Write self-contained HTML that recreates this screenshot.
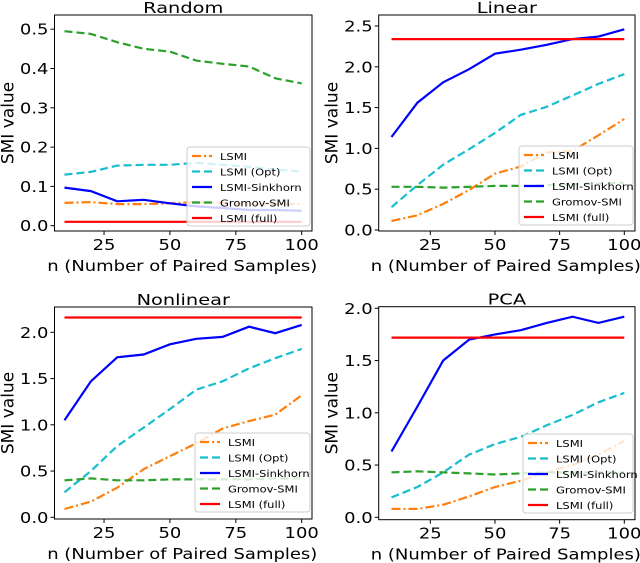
<!DOCTYPE html>
<html><head><meta charset="utf-8">
<style>
html,body{margin:0;padding:0;background:#fff;}
svg{display:block;font-family:"DejaVu Sans","Liberation Sans",sans-serif;}
</style></head>
<body>
<svg id="chart" width="640" height="563" viewBox="0 0 640 563" xmlns="http://www.w3.org/2000/svg"></svg>
<script>
const nValues = [10,20,30,40,50,60,70,80,90,100];
const seriesNames = ["LSMI","LSMI (Opt)","LSMI-Sinkhorn","Gromov-SMI","LSMI (full)"];

const randomLSMI = [0.058,0.060,0.055,0.055,0.057,0.060,0.058,0.055,0.055,0.055];
const randomOpt = [0.130,0.137,0.153,0.155,0.155,0.160,0.155,0.150,0.143,0.138];
const randomSinkhorn = [0.097,0.088,0.062,0.066,0.057,0.049,0.045,0.040,0.040,0.038];
const randomGromov = [0.495,0.488,0.467,0.450,0.443,0.420,0.412,0.405,0.375,0.362];
const randomFull = [0.010,0.010,0.010,0.010,0.010,0.010,0.010,0.010,0.010,0.010];
const randomTicks = [0.0,0.1,0.2,0.3,0.4,0.5];

const linearLSMI = [0.11,0.18,0.32,0.49,0.69,0.78,0.95,0.97,1.16,1.36];
const linearOpt = [0.28,0.55,0.80,0.99,1.19,1.41,1.51,1.65,1.79,1.91];
const linearSinkhorn = [1.14,1.56,1.81,1.97,2.16,2.21,2.27,2.34,2.37,2.46];
const linearGromov = [0.53,0.53,0.52,0.53,0.54,0.54,0.55,0.56,0.57,0.58];
const linearFull = [2.34,2.34,2.34,2.34,2.34,2.34,2.34,2.34,2.34,2.34];
const linearTicks = [0.0,0.5,1.0,1.5,2.0,2.5];

const nonlinLSMI = [0.09,0.17,0.32,0.52,0.66,0.80,0.96,1.04,1.11,1.32];
const nonlinOpt = [0.27,0.50,0.77,0.97,1.17,1.38,1.47,1.61,1.72,1.82];
const nonlinSinkhorn = [1.05,1.47,1.73,1.76,1.87,1.93,1.95,2.06,1.99,2.08];
const nonlinGromov = [0.40,0.42,0.40,0.40,0.41,0.41,0.41,0.41,0.42,0.42];
const nonlinFull = [2.16,2.16,2.16,2.16,2.16,2.16,2.16,2.16,2.16,2.16];
const nonlinTicks = [0.0,0.5,1.0,1.5,2.0];

const pcaLSMI = [0.08,0.08,0.12,0.20,0.29,0.35,0.43,0.50,0.60,0.73];
const pcaOpt = [0.19,0.29,0.43,0.60,0.70,0.77,0.88,0.98,1.10,1.19];
const pcaSinkhorn = [0.63,1.06,1.50,1.70,1.75,1.79,1.86,1.92,1.86,1.92];
const pcaGromov = [0.43,0.44,0.43,0.42,0.41,0.42,0.43,0.43,0.43,0.43];
const pcaFull = [1.72,1.72,1.72,1.72,1.72,1.72,1.72,1.72,1.72,1.72];
const pcaTicks = [0.0,0.5,1.0,1.5,2.0];

const xTicks = [25,50,75,100];

const NS = "http://www.w3.org/2000/svg";
const svg = document.getElementById("chart");
function mk(tag, attrs, parent){
  const e = document.createElementNS(NS, tag);
  for (const k in attrs) e.setAttribute(k, attrs[k]);
  (parent||svg).appendChild(e);
  return e;
}
function stext(parent, x, y, size, sx, anchor, str){
  const e = mk("text", {x:0, y:0, "font-size":size, "text-anchor":anchor,
    transform:"translate(" + x + " " + y + ") scale(" + sx + " 1)"}, parent);
  e.textContent = str;
  return e;
}
const styles = [
  {stroke:"#ff7f0e", dash:"9,3,2,3"},
  {stroke:"#17becf", dash:"8,4"},
  {stroke:"#0000ff", dash:""},
  {stroke:"#2ca02c", dash:"8,4"},
  {stroke:"#ff0000", dash:""}
];

const panels = [
  {key:"random", title:"Random", L:54.5, R:312, T:15, B:231, y0:225.7, yUnit:0.1, yPx:39.3, xA:64.5, xB:301.7, ticks:randomTicks, dec:1,
   series:[randomLSMI,randomOpt,randomSinkhorn,randomGromov,randomFull], leg:{x:187,y:147}},
  {key:"linear", title:"Linear", L:378.7, R:635, T:15, B:231, y0:230, yUnit:0.5, yPx:40.8, xA:391.5, xB:624.3, ticks:linearTicks, dec:1,
   series:[linearLSMI,linearOpt,linearSinkhorn,linearGromov,linearFull], leg:{x:519,y:146}},
  {key:"nonlinear", title:"Nonlinear", L:54.5, R:312, T:307, B:519, y0:517.3, yUnit:0.5, yPx:46.25, xA:64.5, xB:301.7, ticks:nonlinTicks, dec:1,
   series:[nonlinLSMI,nonlinOpt,nonlinSinkhorn,nonlinGromov,nonlinFull], leg:{x:195,y:433}},
  {key:"pca", title:"PCA", L:378.7, R:635, T:306.7, B:519.7, y0:517.3, yUnit:0.5, yPx:52.25, xA:391.5, xB:624.3, ticks:pcaTicks, dec:1,
   series:[pcaLSMI,pcaOpt,pcaSinkhorn,pcaGromov,pcaFull], leg:{x:523,y:434}}
];

panels.forEach(p => {
  const g = mk("g", {});
  
  
  const xs = v => p.xA + (v - 10) * (p.xB - p.xA) / 90;
  const ys = v => p.y0 - v / p.yUnit * p.yPx;
  const cx = (p.L + p.R) / 2;
  const t = stext(g, cx, p.T - 2, 15.5, 1.25, "middle", p.title);
  
  
  p.series.forEach((arr, i) => {
    const pts = arr.map((v, j) => xs(nValues[j]).toFixed(1) + "," + ys(v).toFixed(1)).join(" ");
    const pl = mk("polyline", {points:pts, fill:"none", stroke:styles[i].stroke, "stroke-width":"2.2", "stroke-dasharray":styles[i].dash}, g);
    
    
  });
  const fr = mk("rect", {x:p.L, y:p.T, width:p.R - p.L, height:p.B - p.T, fill:"none", stroke:"#000", "stroke-width":"1"}, g);
  
  
  p.ticks.forEach(v => {
    const y = ys(v);
    mk("line", {x1:p.L - 4, x2:p.L, y1:y, y2:y, stroke:"#000"}, g);
    const tl = stext(g, p.L - 6, y + 5.5, 15, 1.2, "end", v.toFixed(p.dec));
    
    
  });
  xTicks.forEach(v => {
    const x = xs(v);
    mk("line", {x1:x, x2:x, y1:p.B, y2:p.B + 4, stroke:"#000"}, g);
    const tl = stext(g, x, p.B + 19, 15, 1.2, "middle", String(v));
    
    
  });
  const xl = stext(g, cx - 1, p.B + 40, 15, 1.2, "middle", "n (Number of Paired Samples)");
  
  
  const ylx = p.L - 41, yly = (p.T + p.B) / 2;
  const yl = mk("text", {x:0, y:0, "text-anchor":"middle", "font-size":"17",
    transform:"translate(" + ylx + " " + yly + ") rotate(-90)"}, g);
  yl.textContent = "SMI value";
  
  
  const lg = mk("g", {}, g);
  
  
  const lw = p.R - 2 - p.leg.x;
  mk("rect", {x:p.leg.x, y:p.leg.y, width:lw, height:79, rx:3, fill:"#fff", "fill-opacity":"0.8", stroke:"#ccc"}, lg);
  seriesNames.forEach((nm, i) => {
    const y = p.leg.y + 9 + i * 15.5;
    const ln = mk("line", {x1:p.leg.x + 5, x2:p.leg.x + 25, y1:y, y2:y, stroke:styles[i].stroke, "stroke-width":"2.2", "stroke-dasharray":styles[i].dash}, lg);
    
    
    const tx = stext(lg, p.leg.x + 33, y + 4, 10, 1.15, "start", nm);
    
    
  });
});
</script>
</body></html>
